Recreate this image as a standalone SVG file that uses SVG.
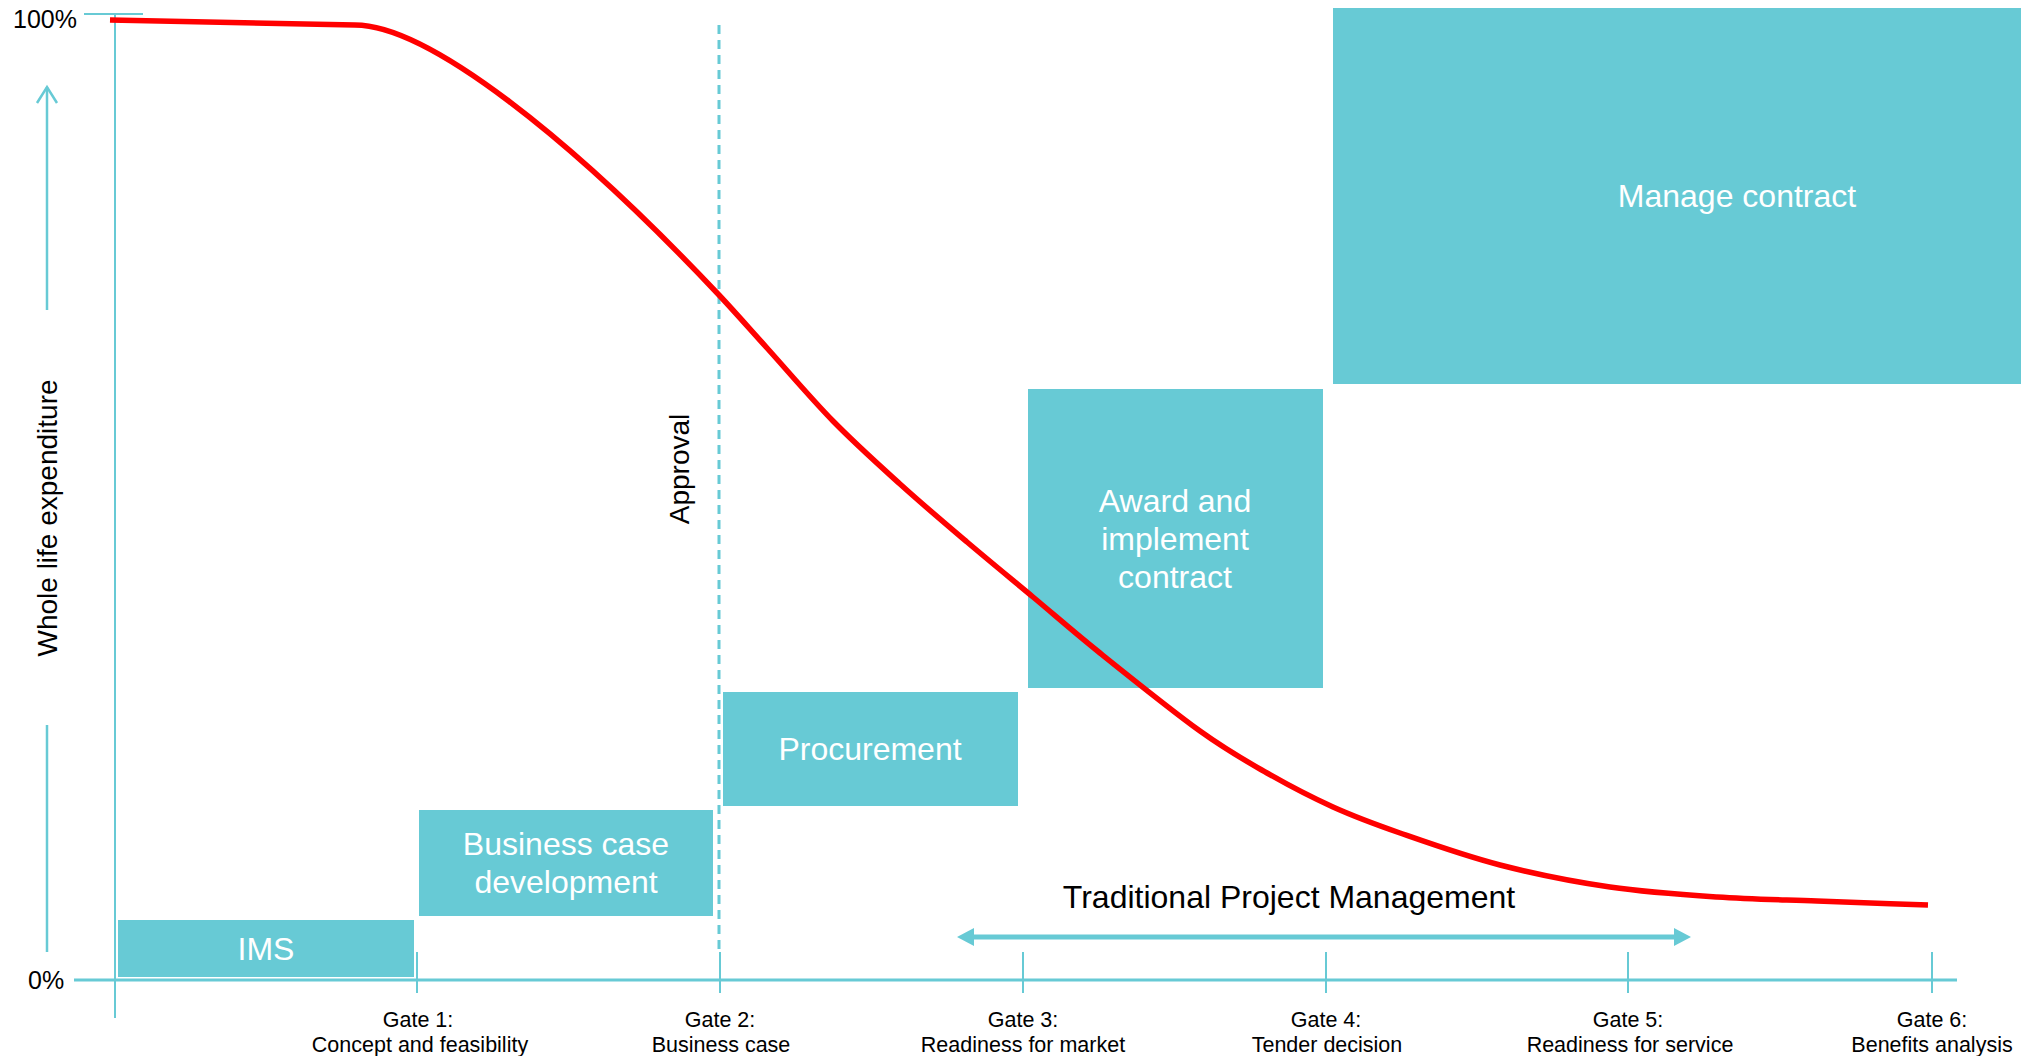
<svg xmlns="http://www.w3.org/2000/svg" width="2021" height="1056" viewBox="0 0 2021 1056">
  <style>
    text { font-family: "Liberation Sans", Arial, sans-serif; }
    .box { fill: #67CAD5; }
    .boxlabel { fill: #ffffff; font-size: 32px; text-anchor: middle; }
    .axis { stroke: #67CAD5; fill: none; }
    .gate { font-size: 21.5px; fill: #000000; text-anchor: middle; }
    .lbl { fill: #000000; }
  </style>
  <rect width="2021" height="1056" fill="#ffffff"/>

  <!-- stage boxes -->
  <g id="manage-contract">
    <rect class="box" x="1333" y="8" width="688" height="376"/>
    <text class="boxlabel" x="1737" y="207">Manage contract</text>
  </g>
  <g id="award-implement">
    <rect class="box" x="1028" y="389" width="295" height="299"/>
    <text class="boxlabel" x="1175" y="512">Award and</text>
    <text class="boxlabel" x="1175" y="550">implement</text>
    <text class="boxlabel" x="1175" y="588">contract</text>
  </g>
  <g id="procurement">
    <rect class="box" x="723" y="692" width="295" height="114"/>
    <text class="boxlabel" x="870" y="760">Procurement</text>
  </g>
  <g id="business-case">
    <rect class="box" x="419" y="810" width="294" height="106"/>
    <text class="boxlabel" x="566" y="855">Business case</text>
    <text class="boxlabel" x="566" y="893">development</text>
  </g>
  <g id="ims">
    <rect class="box" x="118" y="920" width="296" height="57"/>
    <text class="boxlabel" x="266" y="960">IMS</text>
  </g>

  <!-- axes, gate ticks and guides -->
  <g id="connectors">
    <line class="axis" x1="115" y1="14" x2="115" y2="1018" stroke-width="2"/>
    <line class="axis" x1="84" y1="14" x2="143" y2="14" stroke-width="2"/>
    <line class="axis" x1="74" y1="980" x2="1957" y2="980" stroke-width="3"/>
    <g class="axis" stroke-width="2">
      <line x1="417" y1="952" x2="417" y2="993"/>
      <line x1="720" y1="952" x2="720" y2="993"/>
      <line x1="1023" y1="952" x2="1023" y2="993"/>
      <line x1="1326" y1="952" x2="1326" y2="993"/>
      <line x1="1628" y1="952" x2="1628" y2="993"/>
      <line x1="1932" y1="952" x2="1932" y2="993"/>
    </g>
    <!-- vertical value arrow -->
    <line class="axis" x1="47" y1="87" x2="47" y2="310" stroke-width="2.5"/>
    <polyline class="axis" points="37,103 47,87 57,103" stroke-width="2.5"/>
    <line class="axis" x1="47" y1="725" x2="47" y2="952" stroke-width="2.5"/>
    <!-- approval line -->
    <line class="axis" x1="719" y1="25" x2="719" y2="952" stroke-width="3" stroke-dasharray="9 6"/>
    <!-- traditional project management span -->
    <line class="axis" x1="970" y1="937" x2="1678" y2="937" stroke-width="5"/>
    <polygon points="957,937 974,928 974,946" fill="#67CAD5"/>
    <polygon points="1691,937 1674,928 1674,946" fill="#67CAD5"/>
    <!-- expenditure curve -->
    <path fill="none" stroke="#FF0000" stroke-width="5.5" stroke-linejoin="round"
      d="M110,20 L355,25
         C428,25 572,139 719,295
         C734.7,311.7 748,327 767,348
         C786,369 810.8,398.3 833,421
         C855.2,443.7 877.7,463.8 900,484
         C922.3,504.2 944.8,523.2 967,542
         C989.2,560.8 1010.8,578.5 1033,597
         C1055.2,615.5 1072.2,630.7 1100,653
         C1127.8,675.3 1172.2,711 1200,731
         C1227.8,751 1244.8,760.3 1267,773
         C1289.2,785.7 1310.8,797 1333,807
         C1355.2,817 1372.2,823.3 1400,833
         C1427.8,842.7 1465,856 1500,865
         C1535,874 1573.8,881.7 1610,887
         C1646.2,892.3 1682.5,894.7 1717,897
         C1751.5,899.3 1781.8,899.7 1817,901
         C1852.2,902.3 1891,903.7 1928,905"/>
  </g>

  <!-- axis labels -->
  <g id="axis-labels">
    <text class="lbl" x="13" y="28" font-size="25">100%</text>
    <text class="lbl" x="28" y="989" font-size="25">0%</text>
    <text class="lbl" font-size="28" text-anchor="middle" transform="translate(57,518) rotate(-90)">Whole life expenditure</text>
    <text class="lbl" font-size="28" text-anchor="middle" transform="translate(689,469) rotate(-90)">Approval</text>
    <text class="lbl" x="1289" y="908" font-size="32" text-anchor="middle">Traditional Project Management</text>
  </g>

  <!-- gate labels -->
  <g id="gate-1"><text class="gate" x="418" y="1027">Gate 1:</text><text class="gate" x="420" y="1052">Concept and feasibility</text></g>
  <g id="gate-2"><text class="gate" x="720" y="1027">Gate 2:</text><text class="gate" x="721" y="1052">Business case</text></g>
  <g id="gate-3"><text class="gate" x="1023" y="1027">Gate 3:</text><text class="gate" x="1023" y="1052">Readiness for market</text></g>
  <g id="gate-4"><text class="gate" x="1326" y="1027">Gate 4:</text><text class="gate" x="1327" y="1052">Tender decision</text></g>
  <g id="gate-5"><text class="gate" x="1628" y="1027">Gate 5:</text><text class="gate" x="1630" y="1052">Readiness for service</text></g>
  <g id="gate-6"><text class="gate" x="1932" y="1027">Gate 6:</text><text class="gate" x="1932" y="1052">Benefits analysis</text></g>
</svg>
